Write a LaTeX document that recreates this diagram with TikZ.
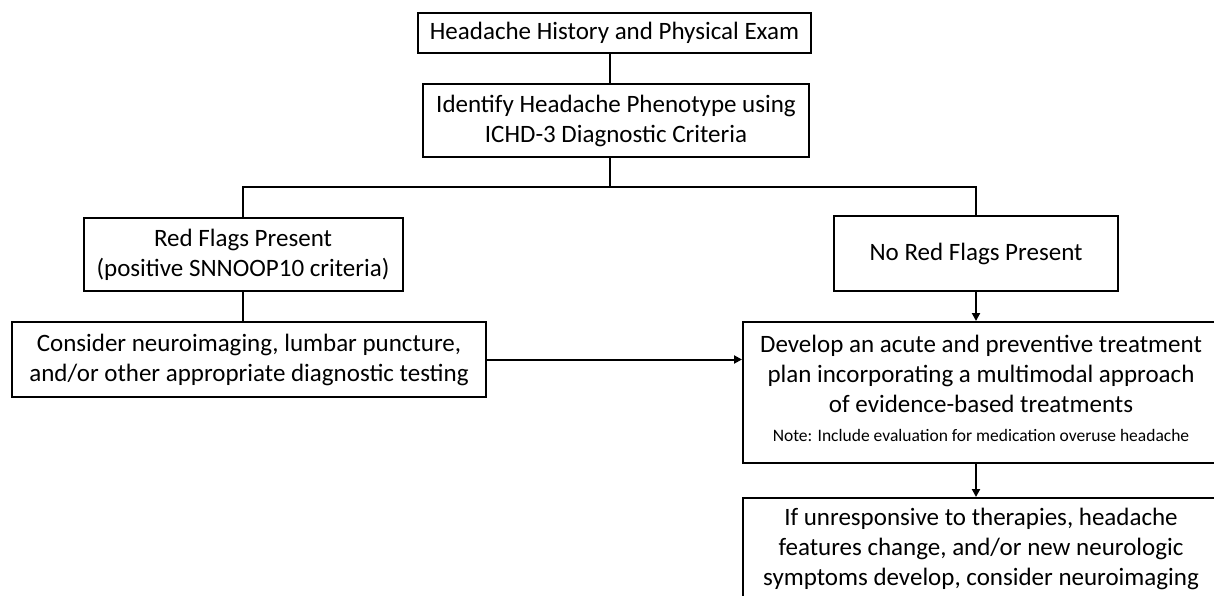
\documentclass[tikz,border=0pt]{standalone}
\usepackage{fontspec}
\setmainfont{Carlito}
\usetikzlibrary{arrows.meta}
\begin{document}
\begin{tikzpicture}[x=1pt,y=-1pt,
  box/.style={draw=black,line width=2pt,rectangle,inner sep=0pt,align=center,
    font=\fontsize{25}{30}\selectfont},
  conn/.style={line width=2pt,draw=black},
  arr/.style={conn,-{Triangle[length=8pt,width=8pt]}}]
\useasboundingbox (0,0) rectangle (1214,596);
\clip (0,0) rectangle (1214,596);
\fill[white] (0,0) rectangle (1214,596);
\node[box,minimum width=393pt,minimum height=40pt] (b1) at (614.5,33) {Headache History and Physical Exam};
\node[box,minimum width=386pt,minimum height=73pt] (b2) at (616,120.5) {Identify Headache Phenotype using\\ICHD-3 Diagnostic Criteria};
\node[box,minimum width=319pt,minimum height=73pt] (b3) at (243,254.5) {Red Flags Present\\(positive SNNOOP10 criteria)};
\node[box,minimum width=474pt,minimum height=75pt] (b4) at (249,359.5) {Consider neuroimaging, lumbar puncture,\\and/or other appropriate diagnostic testing};
\node[box,minimum width=284pt,minimum height=75pt] (b5) at (976,253.5) {No Red Flags Present};
\node[box,minimum width=476pt,minimum height=141pt] (b6) at (981,392.5) {Develop an acute and preventive treatment\\plan incorporating a multimodal approach\\of evidence-based treatments\\[-1pt]{\fontsize{17.5}{20}\selectfont Note: Include evaluation for medication overuse headache\rule[-8pt]{0pt}{8pt}}};
\node[box,minimum width=476pt,minimum height=101pt] (b7) at (981,548.5) {If unresponsive to therapies, headache\\features change, and/or new neurologic\\symptoms develop, consider neuroimaging};
\coordinate (j) at (610,187);
\draw[conn] (b1.south -| j) -- (b2.north -| j);
\draw[conn] (b2.south -| j) -- (j);
\draw[conn] (b3.north) |- (j) -| (b5.north);
\draw[conn] (b3.south) -- (b3.south |- b4.north);
\draw[arr] (b4.east) -- (b4.east -| b6.west);
\draw[arr] (b5.south) -- (b5.south |- b6.north);
\draw[arr] (b6.south -| b5.south) -- (b7.north -| b5.south);
\end{tikzpicture}
\end{document}
